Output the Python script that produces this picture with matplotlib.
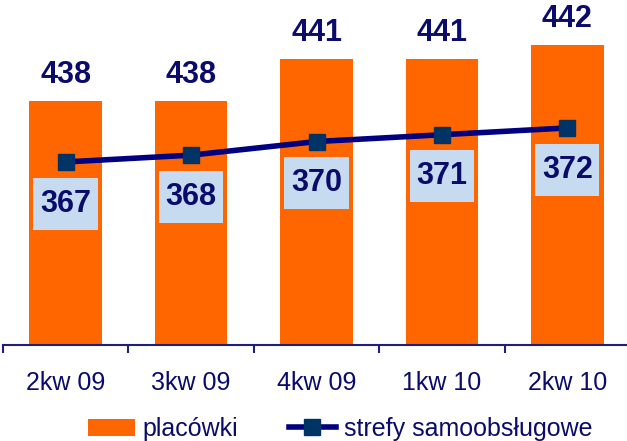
import matplotlib
matplotlib.use("Agg")
import matplotlib.pyplot as plt
from matplotlib.path import Path
import numpy as np

categories = ["2kw 09", "3kw 09", "4kw 09", "1kw 10", "2kw 10"]
placowki = [438, 438, 441, 441, 442]
strefy = [367, 368, 370, 371, 372]
series_names = ["placówki", "strefy samoobsługowe"]

plt.rcParams['font.family'] = ['Liberation Sans', 'DejaVu Sans']

W, H = 627, 441
fig = plt.figure(figsize=(W / 100, H / 100), dpi=100)
ax = fig.add_axes([3 / W, (H - 345) / H, 627 / W, 345 / H])

navy_txt = "#0B0B6B"
x = np.arange(len(categories))
bars = ax.bar(x, placowki, width=0.58, color="#FF6600", label=series_names[0], zorder=2)
ax.set_xlim(-0.5, len(categories) - 0.5)
ax.set_ylim(420.6, 445.2)

for xi, v in zip(x, placowki):
    ax.annotate(str(v), (xi, v), xytext=(0, 8), textcoords="offset points",
                ha="center", va="bottom", fontsize=22, fontweight="bold", color=navy_txt)

for s in ["top", "left", "right"]:
    ax.spines[s].set_visible(False)
ax.spines["bottom"].set_color("#1F1F7A")
ax.spines["bottom"].set_linewidth(1.5)
ax.set_yticks([])
ax.set_xticks(x)
ax.set_xticklabels(categories, fontsize=18, color=navy_txt)
ax.tick_params(axis="x", which="major", length=0, pad=19)
ax.set_xticks(np.arange(-0.5, len(categories), 1.0), minor=True)
ax.tick_params(axis="x", which="minor", length=6, width=1.5, color="#1F1F7A", direction="out")

ax2 = ax.twinx()
ax2.set_ylim(340.1, 390.8)
for s in ax2.spines.values():
    s.set_visible(False)
ax2.set_yticks([])
line, = ax2.plot(x, strefy, color="#000080", linewidth=4, marker="s", markersize=12,
                 markerfacecolor="#003366", markeredgecolor="#003366",
                 label=series_names[1], zorder=3)


def wide_box(x0, y0, width, height, mutation_size):
    px = 0.22 * mutation_size
    py = 0.36 * mutation_size
    x0, y0 = x0 - px, y0 - py
    x1, y1 = x0 + width + 2 * px, y0 + height + 2 * py
    return Path([(x0, y0), (x1, y0), (x1, y1), (x0, y1), (x0, y0)], closed=True)


for xi, v in zip(x, strefy):
    ax2.annotate(str(v), (xi, v), xytext=(0, -30), textcoords="offset points",
                 ha="center", va="center", fontsize=22, fontweight="bold", color=navy_txt,
                 bbox=dict(boxstyle=wide_box, facecolor="#C6DBEF", edgecolor="none"))

fig.legend(handles=[bars, line], labels=series_names, loc="center",
           bbox_to_anchor=(340 / W, 1 - 429 / H), ncol=2, frameon=False,
           fontsize=18, handlelength=1.9, handletextpad=0.3, columnspacing=2.0,
           labelcolor=navy_txt)

fig.savefig("out.png", dpi=100)
